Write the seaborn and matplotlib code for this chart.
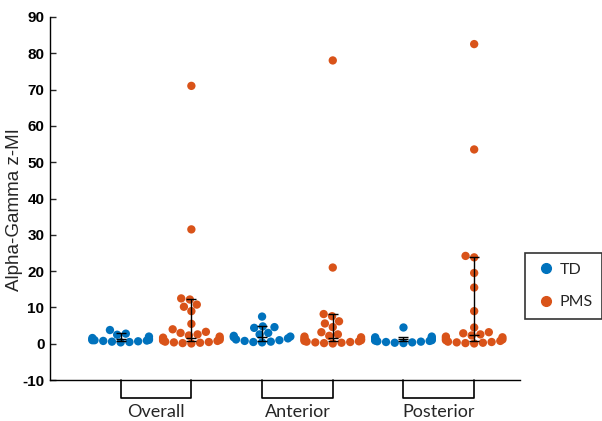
import pandas as pd
import numpy as np
import matplotlib
matplotlib.use("Agg")
import matplotlib.pyplot as plt
import matplotlib.transforms as mtransforms
import seaborn as sns

# values
regions = ['Overall', 'Anterior', 'Posterior']
groups = ['TD', 'PMS']

overall_td = [0.4, 0.5, 0.6, 0.7, 0.8, 0.9, 1.0, 1.1, 1.2, 1.4, 1.6, 2.0, 2.5, 2.8, 3.8, 1.0]
overall_pms = [71.0, 31.5, 12.5, 12.2, 10.8, 10.2, 9.0, 5.5, 4.0, 3.3, 3.0, 2.6, 2.3, 2.0,
               1.7, 1.5, 1.3, 1.1, 0.9, 0.8, 0.6, 0.5, 0.4, 0.3, 0.2, 0.1]
anterior_td = [7.5, 4.8, 4.6, 4.4, 3.0, 2.6, 2.2, 2.0, 1.8, 1.5, 1.2, 1.0, 0.8, 0.6, 0.5, 0.4]
anterior_pms = [78.0, 21.0, 8.2, 7.6, 6.2, 5.6, 4.6, 3.2, 2.6, 2.2, 2.0, 1.8, 1.5, 1.3, 1.1,
                1.0, 0.8, 0.7, 0.6, 0.5, 0.4, 0.3, 0.2, 0.1]
posterior_td = [4.5, 2.0, 1.8, 1.6, 1.4, 1.2, 1.1, 1.0, 0.9, 0.8, 0.7, 0.6, 0.5, 0.4, 0.3, 0.2]
posterior_pms = [82.5, 53.5, 24.2, 23.8, 19.5, 15.5, 9.0, 4.5, 3.2, 2.9, 2.6, 2.3, 2.0, 1.8,
                 1.5, 1.2, 1.0, 0.8, 0.6, 0.5, 0.4, 0.3, 0.2, 0.1]

# median and interquartile range shown as black bars
bar_median = [1.3, 1.6, 1.8, 1.5, 1.2, 2.5]
bar_q1 = [0.9, 0.9, 0.8, 0.8, 0.7, 0.8]
bar_q3 = [2.9, 12.3, 5.0, 8.3, 1.8, 24.0]

blue = '#0072BD'
orange = '#D95319'

values = [overall_td, overall_pms, anterior_td, anterior_pms, posterior_td, posterior_pms]
rows = []
cats = []
for i, reg in enumerate(regions):
    for j, g in enumerate(groups):
        cat = reg + ' ' + g
        cats.append(cat)
        for v in values[i * 2 + j]:
            rows.append({'cat': cat, 'group': g, 'value': v})
df = pd.DataFrame(rows)

sns.set_theme(style='ticks')
plt.rcParams['font.family'] = ['Liberation Sans', 'DejaVu Sans']

fig = plt.figure(figsize=(6.02, 4.21), dpi=100)
ax = fig.add_axes([0.083, 0.097, 0.781, 0.863])

sns.swarmplot(data=df, x='cat', y='value', hue='group', order=cats, hue_order=groups,
              palette=[blue, orange], size=6.0, linewidth=0, ax=ax, legend=False)

xs = np.arange(len(cats))
med = np.array(bar_median)
ax.errorbar(xs, med, yerr=[med - np.array(bar_q1), np.array(bar_q3) - med],
            fmt='_', color='black', ecolor='black', elinewidth=1, capsize=3.5,
            capthick=1, markersize=7, mew=1, zorder=5)

ax.set_xlim(-1.0, 5.65)
ax.set_ylim(-10, 90)
yt = list(range(-10, 91, 10))
ax.set_yticks(yt)
ax.set_yticklabels([str(t) for t in yt], fontweight='bold', family='Liberation Sans',
                   fontsize=11, color='black')
ax.tick_params(axis='y', direction='in', length=4, width=1, pad=4)
ax.set_xticks([])
ax.set_xlabel('')
ax.set_ylabel('Alpha-Gamma z-MI', fontsize=13.5, family='Liberation Sans')
ax.yaxis.set_label_coords(-0.058, 0.47)
sns.despine(ax=ax)
for s in ['left', 'bottom']:
    ax.spines[s].set_color('black')
    ax.spines[s].set_linewidth(1)

# brackets and region labels under the axis
trans = mtransforms.blended_transform_factory(ax.transData, ax.transAxes)
for i, reg in enumerate(regions):
    x0, x1 = i * 2, i * 2 + 1
    ax.plot([x0, x0, x1, x1], [0, -0.05, -0.05, 0], color='black', lw=1.2,
            transform=trans, clip_on=False)
    ax.text((x0 + x1) / 2, -0.088, reg, transform=trans, ha='center', va='center',
            fontsize=13, family='Lato')

# legend
handles = [plt.Line2D([], [], marker='o', ls='', color=blue, markersize=7),
           plt.Line2D([], [], marker='o', ls='', color=orange, markersize=7)]
leg = fig.legend(handles, groups, loc='upper left', bbox_to_anchor=(525 / 602, 1 - 253 / 421),
                 frameon=True, fancybox=False, edgecolor='black',
                 labelspacing=1.15, handletextpad=0.15, handlelength=1.4, borderpad=0.6,
                 borderaxespad=0, prop={'family': 'Lato', 'size': 11.5})
leg.get_frame().set_linewidth(1.2)

fig.savefig('out.png', dpi=100)
